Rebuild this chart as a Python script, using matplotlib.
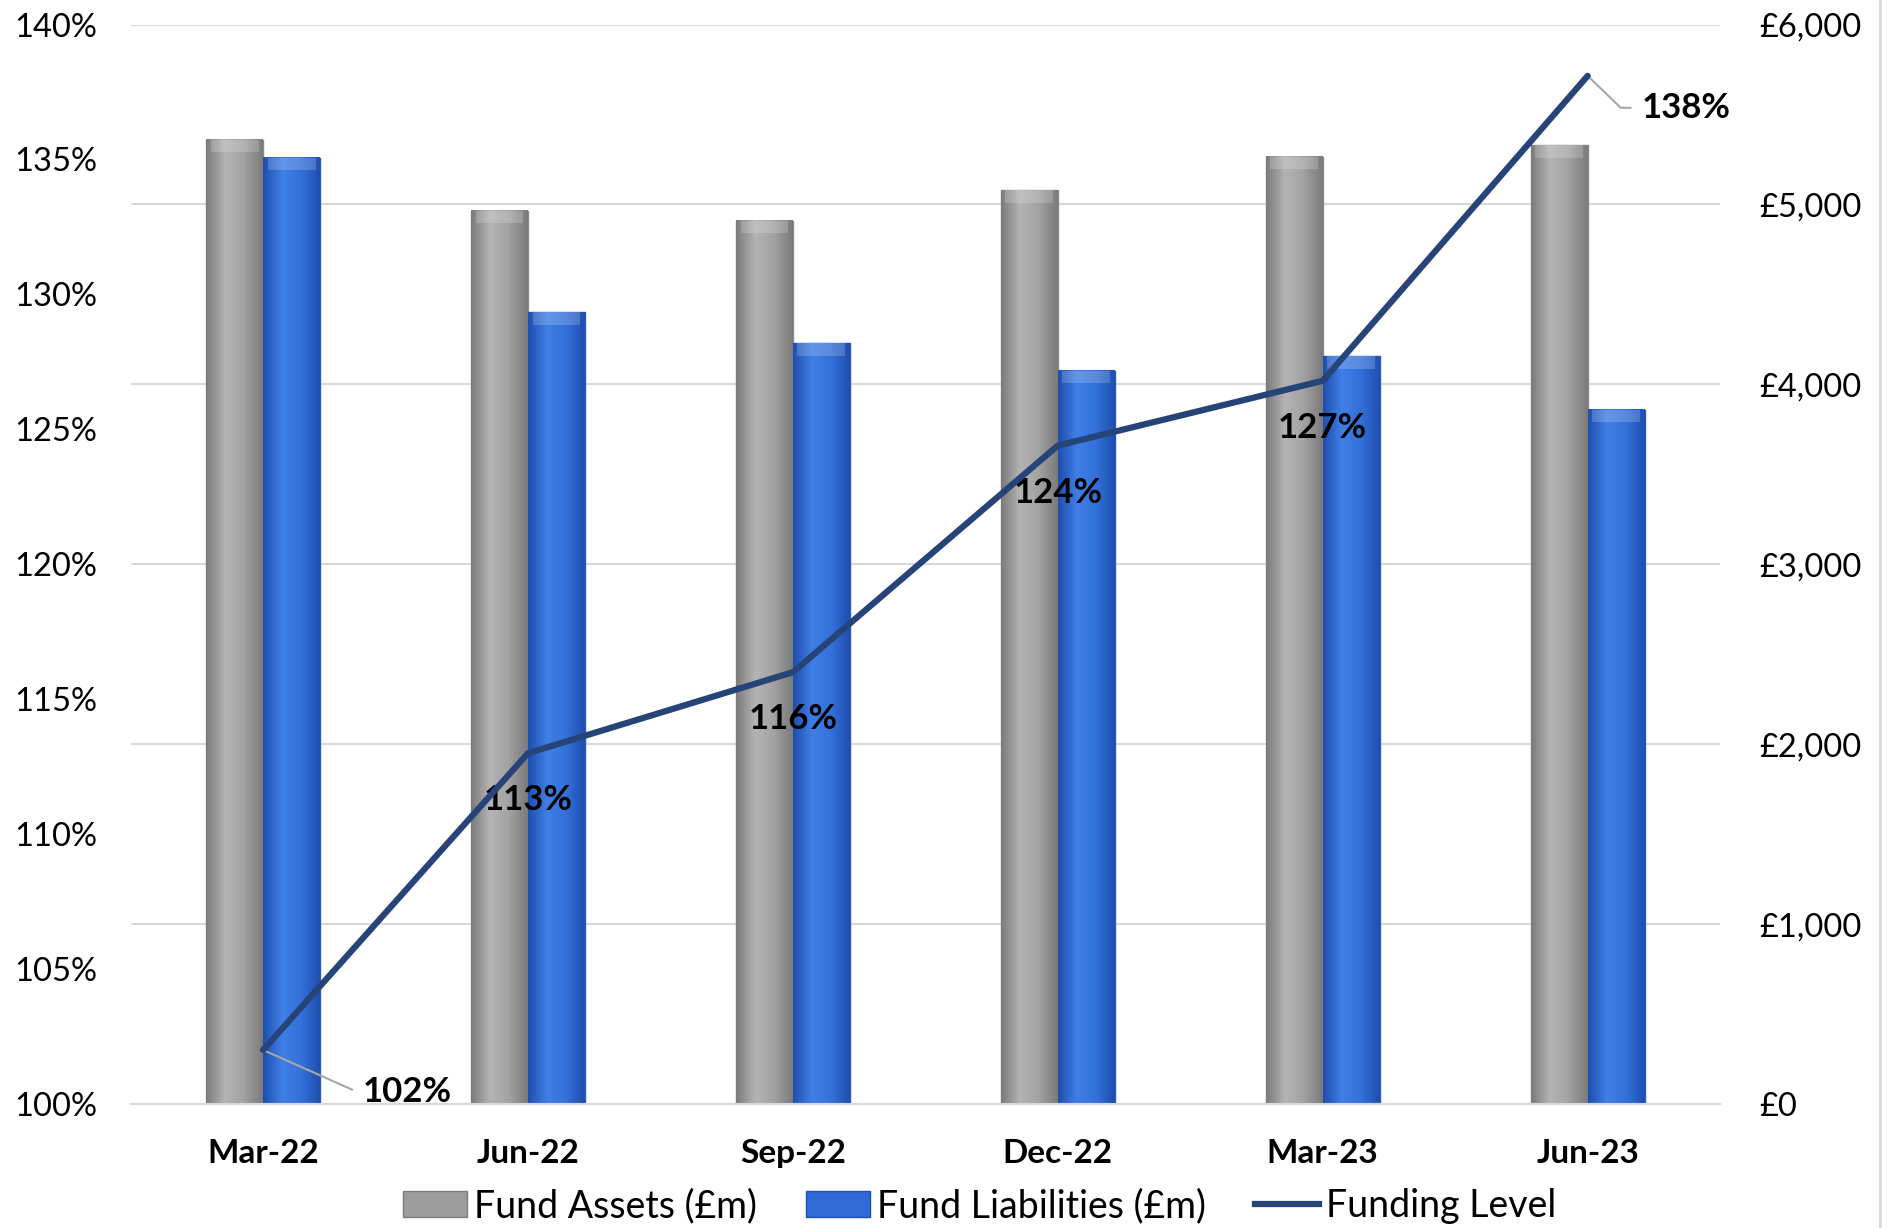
import numpy as np
import matplotlib
matplotlib.use("Agg")
from matplotlib import pyplot as plt
from matplotlib.patches import Patch
from matplotlib.lines import Line2D
from matplotlib.colors import LinearSegmentedColormap

# Quarter-end data
quarters = ["Mar-22", "Jun-22", "Sep-22", "Dec-22", "Mar-23", "Jun-23"]
assets = [5360, 4965, 4910, 5080, 5265, 5330]          # Fund Assets (£m)
liabilities = [5260, 4400, 4230, 4075, 4155, 3860]     # Fund Liabilities (£m)
funding = [102.0, 113.0, 116.0, 124.4, 126.8, 138.1]   # Funding Level (%)
funding_labels = ["102%", "113%", "116%", "124%", "127%", "138%"]

plt.rcParams['font.family'] = ['Lato', 'DejaVu Sans']

fig = plt.figure(figsize=(18.99, 12.28), dpi=100)
ax = fig.add_axes([0.0688, 0.101, 0.837, 0.879])
ax2 = ax.twinx()

x = np.arange(len(quarters))
w = 0.215

gray_cmap = LinearSegmentedColormap.from_list("g", ["#7b7b7b", "#b4b4b4", "#a2a2a2", "#7b7b7b"])
blue_cmap = LinearSegmentedColormap.from_list("b", ["#1f4fb0", "#3f7fe6", "#3471da", "#1f4fb0"])
grad = np.linspace(0, 1, 64).reshape(1, -1)

# Bars go on the right (£) axis, drawn as gradient-filled rectangles
bars_a = ax2.bar(x - w / 2, assets, w, color="#9c9c9c", edgecolor="#8a8a8a", linewidth=1, zorder=2)
bars_l = ax2.bar(x + w / 2, liabilities, w, color="#2f6ad6", edgecolor="#2a5cc0", linewidth=1, zorder=2)
for bars, cmap in [(bars_a, gray_cmap), (bars_l, blue_cmap)]:
    for b in bars:
        x0, y0 = b.get_x(), b.get_y()
        bw, bh = b.get_width(), b.get_height()
        ax2.imshow(grad, cmap=cmap, extent=[x0, x0 + bw, y0, y0 + bh], aspect="auto", zorder=2.5)
        # light bevel at the top of each bar
        ax2.fill_between([x0 + bw * 0.08, x0 + bw * 0.92], y0 + bh - 70, y0 + bh,
                         color="white", alpha=0.18, linewidth=0, zorder=2.6)

ax2.set_ylim(0, 6000)
ax2.set_yticks(np.arange(0, 6001, 1000))
ax2.set_yticklabels(["£{:,}".format(v) for v in range(0, 6001, 1000)])
ax2.yaxis.grid(True, color="#d9d9d9", linewidth=1.5, zorder=0)
ax2.set_axisbelow(True)

# Funding level line on the left (%) axis, kept above the bars
ax.set_zorder(ax2.get_zorder() + 1)
ax.patch.set_visible(False)
ax.plot(x, funding, color="#264478", linewidth=4.5, solid_capstyle="round", zorder=5)
ax.set_ylim(100, 140)
ax.set_yticks(np.arange(100, 141, 5))
ax.set_yticklabels(["{}%".format(v) for v in range(100, 141, 5)])
ax.set_xlim(-0.5, len(quarters) - 0.5)
ax.set_xticks(x)
ax.set_xticklabels(quarters, fontweight="bold", fontsize=24)

for i, (val, lab) in enumerate(zip(funding, funding_labels)):
    if i == 0:
        ax.annotate(lab, (x[i], val), xytext=(72, -30), textcoords="offset points",
                    ha="left", va="center", fontsize=25, fontweight="bold",
                    arrowprops=dict(arrowstyle="-", color="#a6a6a6", lw=1.5, shrinkA=6, shrinkB=0,
                                    relpos=(0, 0.5), connectionstyle="angle,angleA=0,angleB=-24,rad=0"))
    elif i == len(funding) - 1:
        ax.annotate(lab, (x[i], val), xytext=(39, -23), textcoords="offset points",
                    ha="left", va="center", fontsize=25, fontweight="bold",
                    arrowprops=dict(arrowstyle="-", color="#a6a6a6", lw=1.5, shrinkA=6, shrinkB=0,
                                    relpos=(0, 0.5), connectionstyle="angle,angleA=0,angleB=-44,rad=0"))
    else:
        ax.annotate(lab, (x[i], val), xytext=(0, -34), textcoords="offset points",
                    ha="center", va="center", fontsize=25, fontweight="bold")

for a in (ax, ax2):
    for s in ["top", "left", "right"]:
        a.spines[s].set_visible(False)
    a.spines["bottom"].set_color("#d9d9d9")
    a.spines["bottom"].set_linewidth(1.5)
ax.tick_params(axis="y", length=0, pad=24, labelsize=23.5)
ax2.tick_params(axis="y", length=0, pad=28, labelsize=23.5)
ax.tick_params(axis="x", length=0, pad=25)

# Thin border line at the right edge of the chart
fig.add_artist(Line2D([0.990, 0.990], [0, 1], color="#d9d9d9", linewidth=2))

handles = [Patch(facecolor="#9c9c9c", edgecolor="#7b7b7b"),
           Patch(facecolor="#2f6ad6", edgecolor="#1f4fb0"),
           Line2D([0], [0], color="#264478", linewidth=4.5)]
fig.legend(handles, ["Fund Assets (£m)", "Fund Liabilities (£m)", "Funding Level"],
           loc="center", bbox_to_anchor=(0.516, 0.018), ncol=3, frameon=False,
           fontsize=27, handlelength=1.7, handletextpad=0.2, columnspacing=1.3)

plt.savefig("out.png", dpi=100)
